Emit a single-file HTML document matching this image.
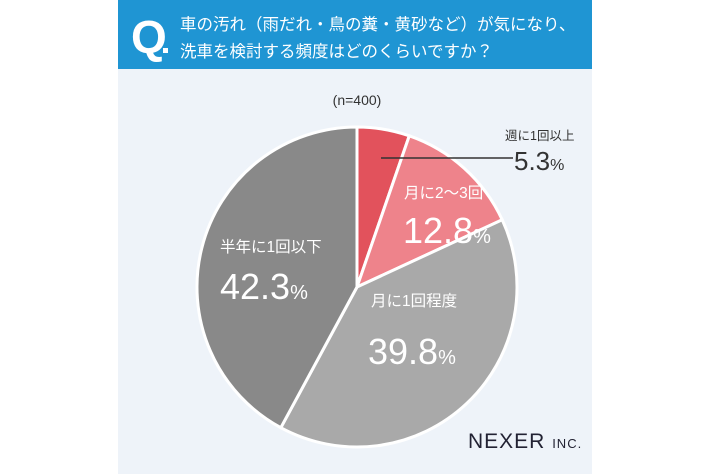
<!DOCTYPE html>
<html><head><meta charset="utf-8"><style>
body{margin:0;width:710px;height:474px;background:#fff;overflow:hidden;font-family:"Liberation Sans","Noto Sans CJK JP",sans-serif}
</style></head><body>
<svg width="710" height="474" xmlns="http://www.w3.org/2000/svg" style="position:absolute;left:0;top:0">
<rect x="118" y="0" width="474" height="474" fill="#eef3f9"/>
<rect x="118" y="0" width="474" height="69" fill="#1f95d3"/>
<text x="131" y="53" font-size="46" font-weight="bold" fill="#fff" font-family="Liberation Sans,sans-serif">Q</text>
<rect x="163" y="48" width="5" height="5" fill="#fff"/>
<g font-family="Liberation Sans,Noto Sans CJK JP,sans-serif" fill="#fff" font-size="16.5">
<text x="180" y="30">車の汚れ（雨だれ・鳥の糞・黄砂など）が気になり、</text>
<text x="180" y="57">洗車を検討する頻度はどのくらいですか？</text>
</g>
<text x="357" y="105" font-size="14" fill="#333" text-anchor="middle">(n=400)</text>
<g stroke="#fff" stroke-width="3">
<path d="M357,287 L357,127 A160,160 0 0 1 409.3,135.8 Z" fill="#e2525c"/>
<path d="M357,287 L409.3,135.8 A160,160 0 0 1 502.2,219.8 Z" fill="#ee838b"/>
<path d="M357,287 L502.2,219.8 A160,160 0 0 1 280.8,427.7 Z" fill="#a9a9a9"/>
<path d="M357,287 L280.8,427.7 A160,160 0 0 1 357,127 Z" fill="#898989"/>
</g>
<line x1="381" y1="158" x2="513" y2="158" stroke="#333" stroke-width="1.5"/>
<g font-family="Liberation Sans,Noto Sans CJK JP,sans-serif">
<text x="505" y="140" font-size="12.5" fill="#333">週に1回以上</text>
<text x="514" y="170" font-size="26" fill="#333">5.3<tspan font-size="16">%</tspan></text>
<text x="404" y="198" font-size="15.5" fill="#fff">月に2〜3回</text>
<text x="403" y="243" font-size="36" fill="#fff">12.8<tspan font-size="20">%</tspan></text>
<text x="371" y="306" font-size="15.5" fill="#fff">月に1回程度</text>
<text x="368" y="364" font-size="36" fill="#fff">39.8<tspan font-size="20">%</tspan></text>
<text x="220" y="252" font-size="15.5" fill="#fff">半年に1回以下</text>
<text x="220" y="299" font-size="36" fill="#fff">42.3<tspan font-size="20">%</tspan></text>
<text x="468" y="448" font-size="21" fill="#223" letter-spacing="1">NEXER <tspan font-size="13">INC.</tspan></text>
</g>
</svg>
</body></html>
